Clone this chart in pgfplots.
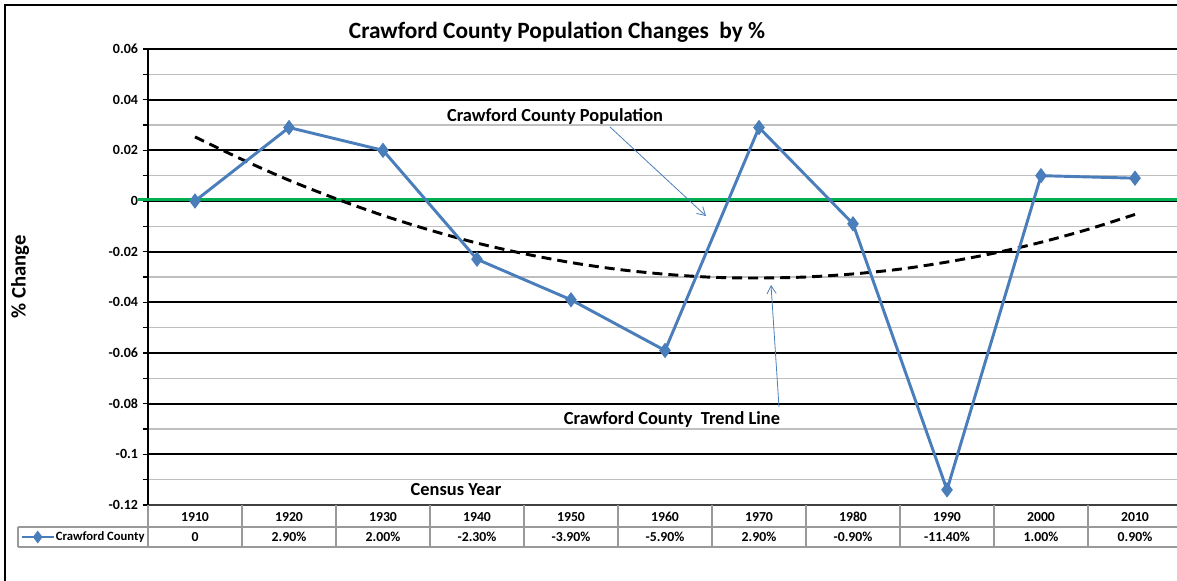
\documentclass[border=0pt]{standalone}
\usepackage{fontspec}
\setmainfont{Carlito}
\usepackage{pgfplots}
\pgfplotsset{compat=1.18}
\usetikzlibrary{arrows.meta}
\definecolor{sblue}{RGB}{74,126,187}
\definecolor{cgreen}{RGB}{0,176,80}
\begin{document}
\begin{tikzpicture}[x=0.75pt,y=0.75pt]
\path[use as bounding box] (0,0) rectangle (1177,581);
\clip (0,0) rectangle (1177,581);
\begin{axis}[
  at={(111pt,57pt)}, anchor=south west,
  scale only axis, width=775.5pt, height=342pt,
  xmin=-0.5, xmax=10.5, ymin=-0.12, ymax=0.06,
  axis x line*=bottom, axis y line*=left,
  x axis line style={-, draw=black!75, line width=1.5pt},
  y axis line style={-, draw=black, line width=1.5pt},
  xtick=\empty,
  ytick={-0.12,-0.1,-0.08,-0.06,-0.04,-0.02,0,0.02,0.04,0.06},
  yticklabels={-0.12,-0.1,-0.08,-0.06,-0.04,-0.02,0,0.02,0.04,0.06},
  minor ytick={-0.11,-0.09,-0.07,-0.05,-0.03,-0.01,0.01,0.03,0.05},
  ymajorgrids, yminorgrids,
  major grid style={black, line width=1.5pt},
  minor grid style={black!25, line width=1.1pt},
  tick align=outside, major tick length=4pt, minor tick length=4pt,
  tick style={black, line width=1.2pt},
  yticklabel style={font=\bfseries\fontsize{10.5}{12}\selectfont},
  clip=false,
  legend style={at={(-0.1238,-0.0702)}, anchor=west, draw=none, fill=none,
    font=\bfseries\fontsize{9.5}{11}\selectfont, inner sep=0pt,
    nodes={inner xsep=0.6pt}},
  legend cell align=left,
  legend image code/.code={\draw[mark repeat=2,mark phase=2,#1, mark size=3pt] plot coordinates {(0pt,0pt)(12pt,0pt)(24pt,0pt)};},
]
\draw[cgreen, line width=2.2pt] (axis cs:-0.606,0.0005) -- (axis cs:11,0.0005);
\addplot[forget plot, black, line width=2.2pt, dash pattern=on 7.5pt off 4.5pt, smooth] coordinates {
(0,0.0253)(0.5,0.0164)(1,0.0082)(1.5,0.0009)(2,-0.0057)(2.5,-0.0115)(3,-0.0166)(3.5,-0.0208)(4,-0.0243)(4.5,-0.0270)(5,-0.0289)(5.5,-0.0301)(6,-0.0304)(6.5,-0.0300)(7,-0.0288)(7.5,-0.0269)(8,-0.0241)(8.5,-0.0206)(9,-0.0163)(9.5,-0.0112)(10,-0.0053)};
\addplot[sblue, line width=2.2pt, mark=diamond*, mark size=4pt, mark options={solid, fill=sblue}] coordinates {
(0,0)(1,0.029)(2,0.020)(3,-0.023)(4,-0.039)(5,-0.059)(6,0.029)(7,-0.009)(8,-0.114)(9,0.010)(10,0.009)};
\addlegendentry{Crawford County}
\end{axis}
% outer frame
\draw[black, line width=1.5pt] (5,-10) -- (5,576) -- (1190,576);
% table
\draw[black!40, line width=1.2pt] (18,54) -- (1190,54);
\draw[black!40, line width=1.2pt] (18,34) -- (1190,34);
\draw[black!40, line width=1.2pt] (18,54) -- (18,34);
\foreach \k in {0,...,11} { \draw[black!40, line width=1.2pt] ({148+94*\k},76) -- ({148+94*\k},34); }
\foreach \y [count=\i from 0] in {1910,1920,1930,1940,1950,1960,1970,1980,1990,2000,2010}
  { \node[font=\bfseries\fontsize{10.3}{12}\selectfont] at ({195+94*\i},64) {\y}; }
\foreach \v [count=\i from 0] in {0,2.90\%,2.00\%,-2.30\%,-3.90\%,-5.90\%,2.90\%,-0.90\%,-11.40\%,1.00\%,0.90\%}
  { \node[font=\bfseries\fontsize{10.3}{12}\selectfont] at ({195+94*\i},44) {\v}; }
% titles
\node[font=\bfseries\fontsize{17.5}{20}\selectfont] at (557,549) {Crawford County Population Changes\ \ by \%};
\node[font=\bfseries\fontsize{15.5}{18}\selectfont, rotate=90] at (20,304) {\% Change};
\node[font=\bfseries\fontsize{13.8}{16}\selectfont] at (456,91) {Census Year};
\node[font=\bfseries\fontsize{13.8}{16}\selectfont] at (555,465) {Crawford County Population};
\node[font=\bfseries\fontsize{13.8}{16}\selectfont] at (672,162) {Crawford County\ \ Trend Line};
\draw[sblue, line width=0.6pt, -{Straight Barb[length=6pt,width=7pt]}] (610,454) -- (706,365);
\draw[sblue, line width=0.6pt, -{Straight Barb[length=6pt,width=7pt]}] (779,174) -- (771,296);
\end{tikzpicture}
\end{document}
